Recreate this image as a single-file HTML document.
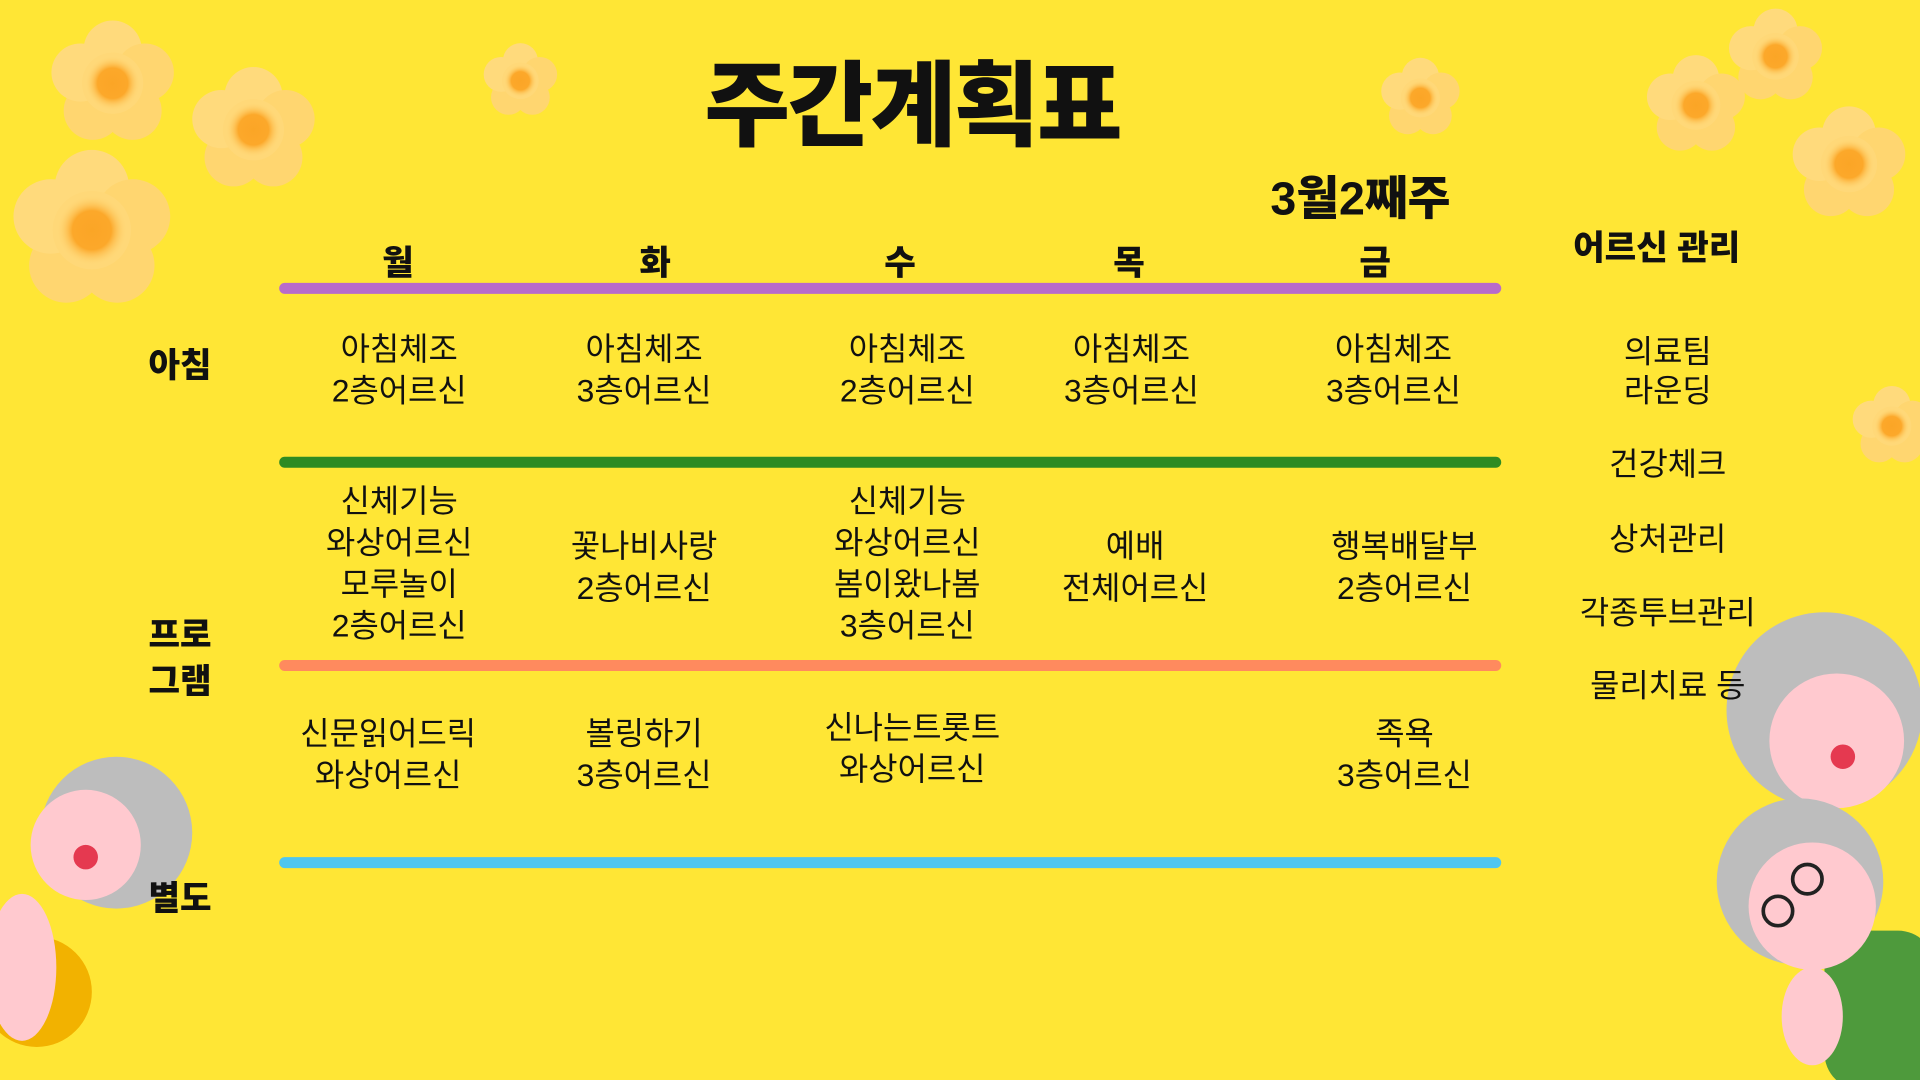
<!DOCTYPE html>
<html><head><meta charset="utf-8"><style>
html,body{margin:0;padding:0;width:1920px;height:1080px;overflow:hidden;background:#FFE635}
#s{position:absolute;left:0;top:0;width:1568px;height:882px;transform:scale(1.22449);transform-origin:0 0;font-family:"Liberation Sans","Noto Sans CJK KR",sans-serif;color:#111}
.t{position:absolute;transform:translateX(-50%);text-align:center;white-space:nowrap;font-size:26px;line-height:34px}
.b{font-weight:900;font-size:28px}
.line{position:absolute;left:228px;width:998px;height:9px;border-radius:5px}
.fl{position:absolute}
</style></head><body><div id="s">
<svg width="1568" height="882" style="position:absolute;left:0;top:0">
<defs>
<radialGradient id="c"><stop offset="0" stop-color="#FBA526"/><stop offset="0.55" stop-color="#FCA82A"/><stop offset="1" stop-color="#FFD878" stop-opacity="0"/></radialGradient>
<g id="f"><circle cx="0" cy="-22" r="19" fill="#FFDA7C"/><circle cx="21" cy="-7" r="19" fill="#FFD670"/><circle cx="13" cy="18" r="19" fill="#FFD670"/><circle cx="-13" cy="18" r="19" fill="#FFD670"/><circle cx="-21" cy="-7" r="19" fill="#FFDA7C"/><circle r="20" fill="#FFD878"/><circle r="18" fill="url(#c)"/></g>
</defs>
<use href="#f" transform="translate(92,68) scale(1.25)"/>
<use href="#f" transform="translate(207,106) scale(1.25)"/>
<use href="#f" transform="translate(75,188) scale(1.6)"/>
<use href="#f" transform="translate(425,66) scale(0.75)"/>
<use href="#f" transform="translate(1160,80) scale(0.8)"/>
<use href="#f" transform="translate(1385,86) scale(1.0)"/>
<use href="#f" transform="translate(1450,46) scale(0.95)"/>
<use href="#f" transform="translate(1510,134) scale(1.15)"/>
<use href="#f" transform="translate(1545,348) scale(0.8)"/>
<!-- left character -->
<circle cx="30" cy="810" r="45" fill="#F2B200"/>
<circle cx="95" cy="680" r="62" fill="#BDBDBD"/>
<circle cx="70" cy="690" r="45" fill="#FFC9CF"/>
<circle cx="70" cy="700" r="10" fill="#E53950"/>
<ellipse cx="18" cy="790" rx="28" ry="60" fill="#FFC9CF"/>
<!-- right characters -->
<circle cx="1490" cy="580" r="80" fill="#BDBDBD"/>
<circle cx="1500" cy="605" r="55" fill="#FFC9CF"/>
<circle cx="1505" cy="618" r="10" fill="#E53950"/>
<rect x="1490" y="760" width="90" height="130" rx="30" fill="#4E9A3C"/>
<circle cx="1470" cy="720" r="68" fill="#BDBDBD"/>
<circle cx="1480" cy="740" r="52" fill="#FFC9CF"/>
<circle cx="1452" cy="744" r="12" fill="none" stroke="#222" stroke-width="3"/>
<circle cx="1476" cy="718" r="12" fill="none" stroke="#222" stroke-width="3"/>
<ellipse cx="1480" cy="830" rx="25" ry="40" fill="#FFC9CF"/>
</svg>
<div class="t" style="left:745px;top:40px;font-size:76px;line-height:96px;font-weight:900;letter-spacing:-2px">주간계획표</div>
<div class="t b" style="left:1111px;top:140px;font-size:38px;line-height:46px">3월2째주</div>
<div class="t b" style="left:325px;top:198px">월</div>
<div class="t b" style="left:535px;top:198px">화</div>
<div class="t b" style="left:735px;top:198px">수</div>
<div class="t b" style="left:922px;top:198px">목</div>
<div class="t b" style="left:1123px;top:198px">금</div>
<div class="t b" style="left:1353px;top:186px">어르신 관리</div>
<div class="line" style="top:231px;background:#B86BCB"></div>
<div class="line" style="top:373px;background:#2E8B22"></div>
<div class="line" style="top:539px;background:#FF8A5E"></div>
<div class="line" style="top:700px;background:#4FC6F0"></div>
<div class="t b" style="left:147px;top:282px">아침</div>
<div class="t b" style="left:147px;top:500px;line-height:38px">프로<br>그램</div>
<div class="t b" style="left:147px;top:717px">별도</div>
<div class="t" style="left:326px;top:268px">아침체조<br>2층어르신</div>
<div class="t" style="left:526px;top:268px">아침체조<br>3층어르신</div>
<div class="t" style="left:741px;top:268px">아침체조<br>2층어르신</div>
<div class="t" style="left:924px;top:268px">아침체조<br>3층어르신</div>
<div class="t" style="left:1138px;top:268px">아침체조<br>3층어르신</div>
<div class="t" style="left:326px;top:392px">신체기능<br>와상어르신<br>모루놀이<br>2층어르신</div>
<div class="t" style="left:526px;top:429px">꽃나비사랑<br>2층어르신</div>
<div class="t" style="left:741px;top:392px">신체기능<br>와상어르신<br>봄이왔나봄<br>3층어르신</div>
<div class="t" style="left:927px;top:429px">예배<br>전체어르신</div>
<div class="t" style="left:1147px;top:429px">행복배달부<br>2층어르신</div>
<div class="t" style="left:317px;top:582px">신문읽어드릭<br>와상어르신</div>
<div class="t" style="left:526px;top:582px">볼링하기<br>3층어르신</div>
<div class="t" style="left:745px;top:577px">신나는트롯트<br>와상어르신</div>
<div class="t" style="left:1147px;top:582px">족욕<br>3층어르신</div>
<div class="t" style="left:1362px;top:271px;line-height:32px">의료팀<br>라운딩</div>
<div class="t" style="left:1362px;top:362px">건강체크</div>
<div class="t" style="left:1362px;top:423px">상처관리</div>
<div class="t" style="left:1362px;top:483px">각종투브관리</div>
<div class="t" style="left:1362px;top:543px">물리치료 등</div>
</div></body></html>
